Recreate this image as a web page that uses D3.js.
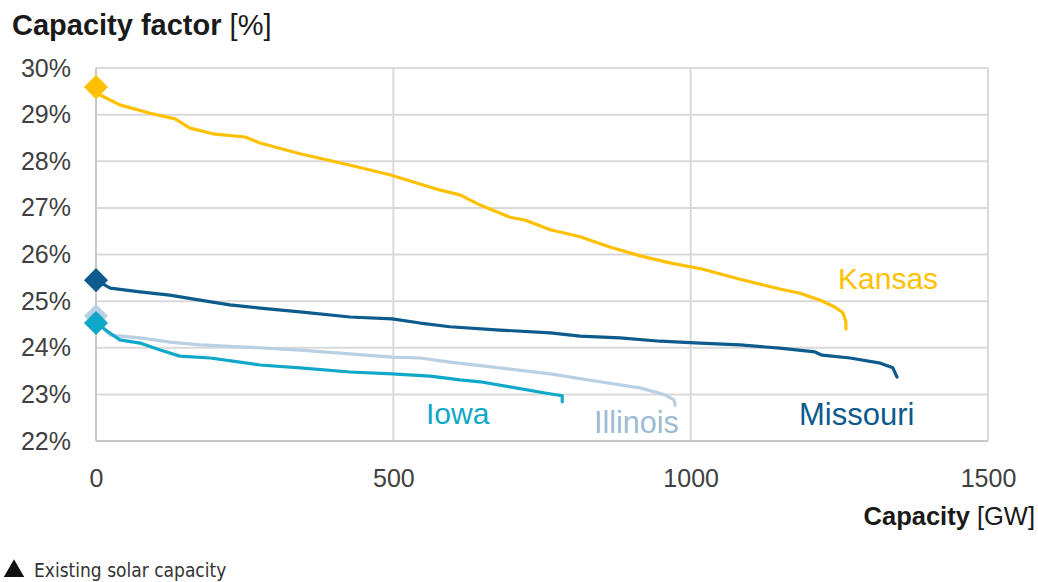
<!DOCTYPE html>
<html>
<head>
<meta charset="utf-8">
<script src="https://cdn.jsdelivr.net/npm/d3@7"></script>
<style>
  html, body { margin: 0; padding: 0; background: #fff; }
  svg { display: block; }
</style>
</head>
<body>
<svg id="chart" width="1038" height="582"></svg>
<script>
// ---- data ----
const xTicks = [0, 500, 1000, 1500];
const yTicks = [22, 23, 24, 25, 26, 27, 28, 29, 30];

const kansasCap = [0, 7, 40, 91, 133, 158, 200, 251, 276, 343, 419, 494, 579, 612, 646, 696, 721, 764, 814, 864, 915, 965, 1019, 1083, 1150, 1184, 1218, 1243, 1256, 1261, 1261];
const kansasCF  = [29.59, 29.42, 29.21, 29.03, 28.91, 28.71, 28.58, 28.52, 28.39, 28.16, 27.94, 27.71, 27.38, 27.28, 27.06, 26.80, 26.74, 26.53, 26.38, 26.16, 25.97, 25.82, 25.69, 25.47, 25.26, 25.17, 25.02, 24.87, 24.75, 24.55, 24.40];

const missouriCap = [0, 24, 74, 124, 175, 225, 276, 343, 427, 498, 545, 595, 679, 764, 814, 881, 949, 1016, 1083, 1150, 1209, 1221, 1268, 1319, 1340, 1347];
const missouriCF  = [25.45, 25.28, 25.20, 25.13, 25.02, 24.92, 24.85, 24.77, 24.66, 24.62, 24.53, 24.45, 24.38, 24.32, 24.25, 24.21, 24.14, 24.10, 24.06, 23.99, 23.91, 23.84, 23.78, 23.67, 23.57, 23.37];

const illinoisCap = [0, 15, 24, 74, 124, 175, 259, 343, 427, 498, 545, 595, 679, 764, 847, 915, 957, 972, 974];
const illinoisCF  = [24.68, 24.38, 24.27, 24.21, 24.12, 24.06, 24.01, 23.95, 23.87, 23.80, 23.78, 23.69, 23.57, 23.44, 23.27, 23.14, 22.99, 22.88, 22.77];

const iowaCap = [0, 24, 40, 74, 108, 141, 192, 242, 276, 343, 427, 498, 562, 612, 646, 696, 755, 784, 784];
const iowaCF  = [24.53, 24.31, 24.17, 24.10, 23.95, 23.82, 23.78, 23.69, 23.63, 23.57, 23.48, 23.44, 23.39, 23.31, 23.27, 23.16, 23.03, 22.97, 22.84];

const seriesNames = ["Kansas", "Missouri", "Illinois", "Iowa"];
const existingCap = [0, 0, 0, 0];            // marker position (existing solar capacity)
const existingCF  = [29.59, 25.45, 24.68, 24.53];
const legendLabel = "Existing solar capacity";

// ---- styles ----
const colors = { Kansas: "#FFC000", Missouri: "#0D5A8C", Illinois: "#B8D0E2", Iowa: "#0FA8C9" };
const labelColors = { Kansas: "#FFC000", Missouri: "#0D5A8C", Illinois: "#9CBCD4", Iowa: "#0FA8C9" };
const labelPos = { Kansas: [838, 289], Missouri: [799, 425], Illinois: [594, 433], Iowa: [426, 424] };
const labelSize = { Kansas: 30, Missouri: 31, Illinois: 30.5, Iowa: 30 };

const svg = d3.select("#chart");
const x = d3.scaleLinear().domain([0, 1500]).range([96, 988]);
const y = d3.scaleLinear().domain([22, 30]).range([441, 68]);
const FONT = "'Liberation Sans', Arial, sans-serif";

// gridlines
svg.append("g").selectAll("line").data(yTicks).join("line")
  .attr("x1", x(0)).attr("x2", x(1500))
  .attr("y1", d => y(d)).attr("y2", d => y(d))
  .attr("stroke", "#D9D9D9").attr("stroke-width", 2);
svg.append("g").selectAll("line").data(xTicks).join("line")
  .attr("x1", d => x(d)).attr("x2", d => x(d))
  .attr("y1", y(22)).attr("y2", y(30))
  .attr("stroke", "#D9D9D9").attr("stroke-width", 2);
// axis lines
svg.append("line").attr("x1", x(0)).attr("x2", x(0)).attr("y1", y(22)).attr("y2", y(30))
  .attr("stroke", "#C8C8C8").attr("stroke-width", 2);
svg.append("line").attr("x1", x(0)).attr("x2", x(1500)).attr("y1", y(22)).attr("y2", y(22))
  .attr("stroke", "#C8C8C8").attr("stroke-width", 2);

// y axis tick labels
const yAxis = d3.axisLeft(y).tickValues(yTicks).tickFormat(d => d + "%").tickSize(0).tickPadding(25);
const gy = svg.append("g").attr("transform", `translate(${x(0)},0)`).call(yAxis);
gy.select(".domain").remove();
gy.selectAll("text").attr("font-family", FONT).attr("font-size", 25).attr("fill", "#404040");

// x axis tick labels
const xAxis = d3.axisBottom(x).tickValues(xTicks).tickFormat(d3.format("d")).tickSize(0).tickPadding(28);
const gx = svg.append("g").attr("transform", `translate(0,${y(22)})`).call(xAxis);
gx.select(".domain").remove();
gx.selectAll("text").attr("font-family", FONT).attr("font-size", 25).attr("fill", "#404040");

// titles
const t1 = svg.append("text").attr("x", 12).attr("y", 35).attr("font-family", FONT).attr("font-size", 29).attr("fill", "#1a1a1a");
t1.append("tspan").attr("font-weight", "bold").text("Capacity factor");
t1.append("tspan").text(" [%]");
const t2 = svg.append("text").attr("x", 1035).attr("y", 525).attr("text-anchor", "end").attr("font-family", FONT).attr("font-size", 25.5).attr("fill", "#1a1a1a");
t2.append("tspan").attr("font-weight", "bold").text("Capacity");
t2.append("tspan").text(" [GW]");

// lines
const seriesData = {
  Kansas: d3.zip(kansasCap, kansasCF),
  Missouri: d3.zip(missouriCap, missouriCF),
  Illinois: d3.zip(illinoisCap, illinoisCF),
  Iowa: d3.zip(iowaCap, iowaCF)
};
const lineGen = d3.line().x(d => x(d[0])).y(d => y(d[1]));
seriesNames.forEach(name => {
  svg.append("path").datum(seriesData[name])
    .attr("d", lineGen)
    .attr("fill", "none").attr("stroke", colors[name]).attr("stroke-width", 3.2)
    .attr("stroke-linejoin", "round").attr("stroke-linecap", "round");
});

// diamonds
const diamond = d3.symbol().type(d3.symbolSquare).size(290);
seriesNames.forEach((name, i) => {
  svg.append("path").attr("d", diamond())
    .attr("transform", `translate(${x(existingCap[i])},${y(existingCF[i])}) rotate(45)`)
    .attr("fill", colors[name]);
});

// series labels
seriesNames.forEach(name => {
  svg.append("text").attr("x", labelPos[name][0]).attr("y", labelPos[name][1])
    .attr("font-family", FONT).attr("font-size", labelSize[name]).attr("fill", labelColors[name]).text(name);
});

// legend
svg.append("path").attr("d", d3.symbol().type(d3.symbolTriangle).size(180)())
  .attr("transform", "translate(14,571)").attr("fill", "#111");
svg.append("text").attr("x", 34).attr("y", 577)
  .attr("font-family", "'DejaVu Sans Condensed', 'Liberation Sans Narrow', sans-serif")
  .attr("font-stretch", "condensed")
  .attr("font-size", 19).attr("fill", "#333").text(legendLabel);
</script>
</body>
</html>
